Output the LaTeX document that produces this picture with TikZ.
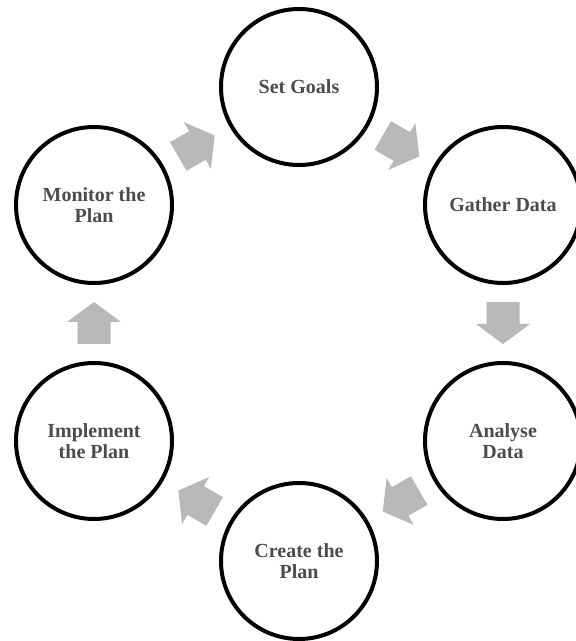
\documentclass[tikz,border=0pt]{standalone}
\usepackage{fontspec}
\setmainfont{Liberation Serif}
\usetikzlibrary{calc}
\definecolor{txtgray}{rgb}{0.3,0.3,0.3}
\definecolor{arrgray}{rgb}{0.72,0.72,0.72}
\tikzset{
  stage/.style={circle, draw=black, line width=4pt, minimum size=156pt, inner sep=0pt,
    align=center, text=txtgray, font=\fontsize{20}{21}\selectfont\bfseries},
  blockarr/.pic={\fill[arrgray] (-21,-16.5) -- (1,-16.5) -- (1,-27) -- (21,0) -- (1,27) -- (1,16.5) -- (-21,16.5) -- cycle;}
}
\begin{document}
\begin{tikzpicture}[x=1pt,y=1pt]
\clip (0,0) rectangle (576,641);
\useasboundingbox (0,0) rectangle (576,641);
\fill[white] (0,0) rectangle (576,641);
\node[stage] (sg) at (299,554) {Set Goals};
\node[stage] (gd) at (503,436) {Gather Data};
\node[stage] (ad) at (503,200) {Analyse\\Data};
\node[stage] (cp) at (299,80) {Create the\\Plan};
\node[stage] (ip) at (94,200) {Implement\\the Plan};
\node[stage] (mp) at (94,436) {Monitor the\\Plan};
\pic[rotate=30] at ($(mp)!0.5!(sg)$) {blockarr};
\pic[rotate=-30] at ($(sg)!0.5!(gd)$) {blockarr};
\pic[rotate=-90] at ($(gd)!0.5!(ad)$) {blockarr};
\pic[rotate=-150] at ($(ad)!0.5!(cp)$) {blockarr};
\pic[rotate=150] at ($(cp)!0.5!(ip)$) {blockarr};
\pic[rotate=90] at ($(ip)!0.5!(mp)$) {blockarr};
\end{tikzpicture}
\end{document}
